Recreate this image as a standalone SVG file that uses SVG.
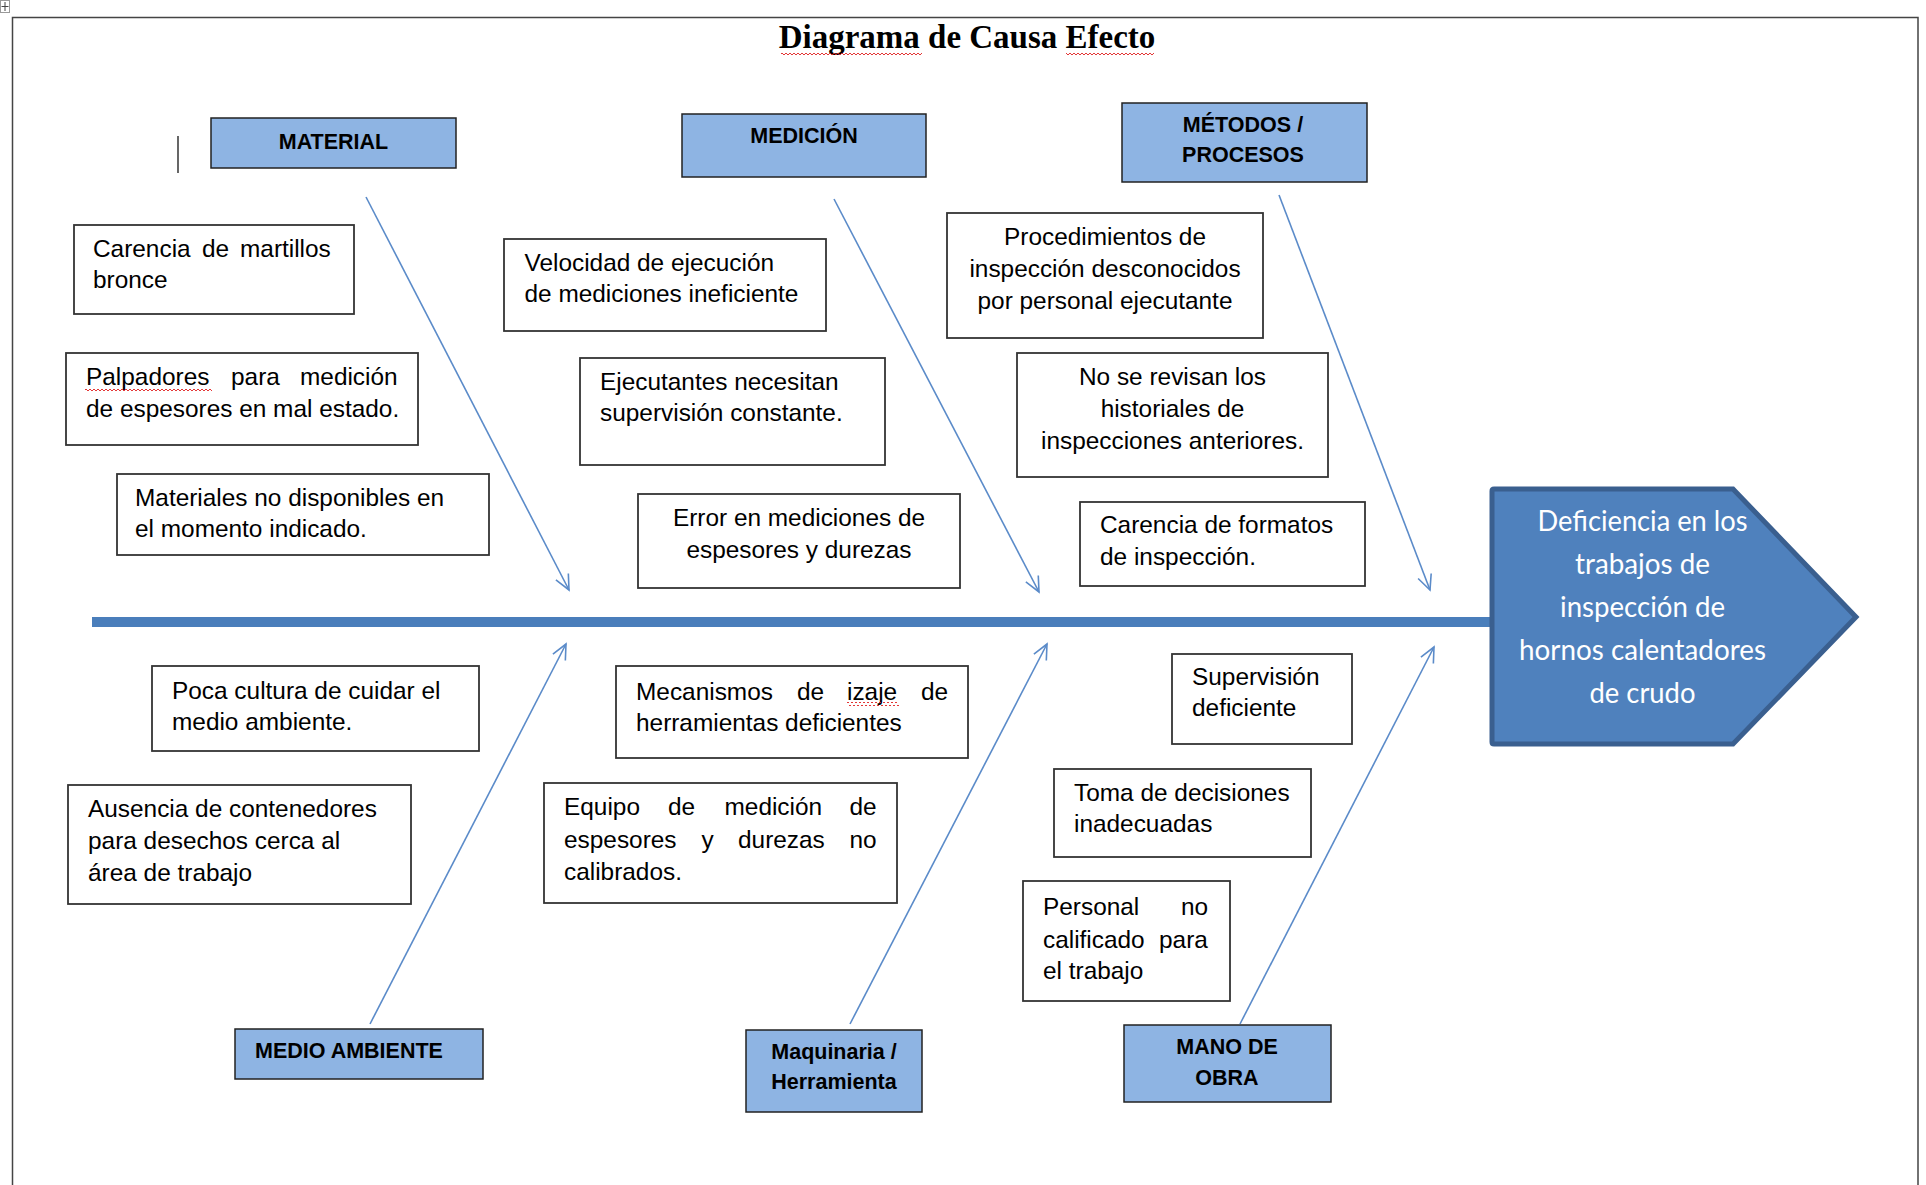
<svg xmlns="http://www.w3.org/2000/svg" width="1926" height="1185" viewBox="0 0 1926 1185">
<style>
.frame{fill:none;stroke:#444;stroke-width:1.5}
.cat rect{fill:#8EB4E3;stroke:#222;stroke-width:1.5}
.cat text{font-family:"Liberation Sans",Arial,sans-serif;font-size:21.5px;font-weight:bold;fill:#000}
.cause rect{fill:#fff;stroke:#333;stroke-width:1.8}
.cause text{font-family:"Liberation Sans",Arial,sans-serif;font-size:24.4px;fill:#000}
.mid{text-anchor:middle}
.conn{stroke:#5B8BC9;stroke-width:1.6;fill:none;marker-end:url(#arr)}
.spine{stroke:#4A7EBB;stroke-width:10;fill:none}
.eff{font-family:Lato,"Liberation Sans",sans-serif;font-size:28px;fill:#fff;text-anchor:middle}
rect.sq,.cause rect.sq{fill:url(#sq);stroke:none}
</style>
<defs>
<marker id="arr" viewBox="-17 -9 19 18" refX="0" refY="0" markerWidth="19" markerHeight="18" markerUnits="userSpaceOnUse" orient="auto">
<path d="M-15,-7 L0,0 L-15,7" fill="none" stroke="#5B8BC9" stroke-width="1.6"/>
</marker>
<pattern id="sq" x="0" y="0" width="4" height="4" patternUnits="userSpaceOnUse">
<path d="M0,3 L2,1 L4,3" fill="none" stroke="#E02020" stroke-width="0.9"/>
</pattern>
</defs>
<rect width="1926" height="1185" fill="#fff"/>
<g id="frame">
<path class="frame" d="M12.5,1185 V17.5 H1918 V1185"/>
<rect x="0.5" y="0.5" width="9" height="12" fill="#fff" stroke="#999" stroke-width="1"/>
<path d="M5,2 V11 M1.5,6.5 H8.5" stroke="#444" stroke-width="1" fill="none"/>
<line x1="178" y1="136" x2="178" y2="173" stroke="#000" stroke-width="1.2"/>
</g>
<g id="title">
<text x="967" y="48" text-anchor="middle" font-family="'Liberation Serif','Times New Roman',serif" font-weight="bold" font-size="33px" fill="#000">Diagrama de Causa Efecto</text>
<rect class="sq" x="781" y="51" width="141" height="4"/>
<rect class="sq" x="1066" y="51" width="88" height="4"/>
</g>
<g id="connectors">
<line class="spine" x1="92" y1="622" x2="1492" y2="622"/>
<line class="conn" x1="366" y1="197" x2="569" y2="590"/>
<line class="conn" x1="834" y1="199" x2="1039" y2="592"/>
<line class="conn" x1="1279" y1="195" x2="1430" y2="590"/>
<line class="conn" x1="370" y1="1024" x2="566" y2="644"/>
<line class="conn" x1="850" y1="1024" x2="1047" y2="644"/>
<line class="conn" x1="1240" y1="1024" x2="1434" y2="647"/>
</g>
<g id="effect">
<path d="M1492,491 Q1492,489 1494,489 L1733,489 L1856,617 L1733,744 L1494,744 Q1492,744 1492,742 Z" fill="#4F81BD" stroke="#3A5F8F" stroke-width="5" stroke-linejoin="miter"/>
<text class="eff" x="1642.5" y="531" textLength="210" lengthAdjust="spacingAndGlyphs">Deficiencia en los</text>
<text class="eff" x="1642.5" y="574" textLength="135" lengthAdjust="spacingAndGlyphs">trabajos de</text>
<text class="eff" x="1642.5" y="617" textLength="165" lengthAdjust="spacingAndGlyphs">inspección de</text>
<text class="eff" x="1642.5" y="660" textLength="247" lengthAdjust="spacingAndGlyphs">hornos calentadores</text>
<text class="eff" x="1642.5" y="703" textLength="106" lengthAdjust="spacingAndGlyphs">de crudo</text>
</g>
<g id="cat-material" class="cat">
<rect x="211" y="118" width="245" height="50"/>
<text class="mid" x="333.5" y="149">MATERIAL</text>
</g>
<g id="cat-medicion" class="cat">
<rect x="682" y="114" width="244" height="63"/>
<text class="mid" x="804" y="143">MEDICIÓN</text>
</g>
<g id="cat-metodos" class="cat">
<rect x="1122" y="103" width="245" height="79"/>
<text class="mid" x="1243" y="132">MÉTODOS /</text>
<text class="mid" x="1243" y="162">PROCESOS</text>
</g>
<g id="cat-medio" class="cat">
<rect x="235" y="1029" width="248" height="50"/>
<text x="255" y="1058">MEDIO AMBIENTE</text>
</g>
<g id="cat-maquinaria" class="cat">
<rect x="746" y="1030" width="176" height="82"/>
<text class="mid" x="834" y="1059">Maquinaria /</text>
<text class="mid" x="834" y="1089">Herramienta</text>
</g>
<g id="cat-mano" class="cat">
<rect x="1124" y="1025" width="207" height="77"/>
<text class="mid" x="1227" y="1054">MANO DE</text>
<text class="mid" x="1227" y="1085">OBRA</text>
</g>
<g id="c1" class="cause">
<rect x="74" y="225" width="280" height="89"/>
<text y="257"><tspan x="93">Carencia</tspan><tspan x="202">de</tspan><tspan x="240">martillos</tspan></text>
<text x="93" y="288">bronce</text>
</g>
<g id="c2" class="cause">
<rect x="66" y="353" width="352" height="92"/>
<text y="385"><tspan x="86">Palpadores</tspan><tspan x="231">para</tspan><tspan x="300">medición</tspan></text>
<text x="86" y="417">de espesores en mal estado.</text>
<rect class="sq" x="85" y="388" width="127" height="4"/>
</g>
<g id="c3" class="cause">
<rect x="117" y="474" width="372" height="81"/>
<text x="135" y="506">Materiales no disponibles en</text>
<text x="135" y="537">el momento indicado.</text>
</g>
<g id="c4" class="cause">
<rect x="504" y="239" width="322" height="92"/>
<text x="524.5" y="271">Velocidad de ejecución</text>
<text x="524.5" y="302">de mediciones ineficiente</text>
</g>
<g id="c5" class="cause">
<rect x="580" y="358" width="305" height="107"/>
<text x="600" y="390">Ejecutantes necesitan</text>
<text x="600" y="421">supervisión constante.</text>
</g>
<g id="c6" class="cause">
<rect x="638" y="494" width="322" height="94"/>
<text class="mid" x="799" y="526">Error en mediciones de</text>
<text class="mid" x="799" y="558">espesores y durezas</text>
</g>
<g id="c7" class="cause">
<rect x="947" y="213" width="316" height="125"/>
<text class="mid" x="1105" y="245">Procedimientos de</text>
<text class="mid" x="1105" y="277">inspección desconocidos</text>
<text class="mid" x="1105" y="309">por personal ejecutante</text>
</g>
<g id="c8" class="cause">
<rect x="1017" y="353" width="311" height="124"/>
<text class="mid" x="1172.5" y="385">No se revisan los</text>
<text class="mid" x="1172.5" y="417">historiales de</text>
<text class="mid" x="1172.5" y="449">inspecciones anteriores.</text>
</g>
<g id="c9" class="cause">
<rect x="1080" y="502" width="285" height="84"/>
<text x="1100" y="533">Carencia de formatos</text>
<text x="1100" y="565">de inspección.</text>
</g>
<g id="c10" class="cause">
<rect x="152" y="666" width="327" height="85"/>
<text x="172" y="699">Poca cultura de cuidar el</text>
<text x="172" y="730">medio ambiente.</text>
</g>
<g id="c11" class="cause">
<rect x="68" y="785" width="343" height="119"/>
<text x="88" y="817">Ausencia de contenedores</text>
<text x="88" y="849">para desechos cerca al</text>
<text x="88" y="881">área de trabajo</text>
</g>
<g id="c12" class="cause">
<rect x="616" y="666" width="352" height="92"/>
<text y="700"><tspan x="636">Mecanismos</tspan><tspan x="797">de</tspan><tspan x="847">izaje</tspan><tspan x="921">de</tspan></text>
<text x="636" y="731">herramientas deficientes</text>
<rect class="sq" x="847" y="702" width="52" height="4"/>
</g>
<g id="c13" class="cause">
<rect x="544" y="783" width="353" height="120"/>
<text y="815"><tspan x="564">Equipo</tspan><tspan x="668">de</tspan><tspan x="724.5">medición</tspan><tspan x="849.5">de</tspan></text>
<text y="848"><tspan x="564">espesores</tspan><tspan x="701.5">y</tspan><tspan x="738">durezas</tspan><tspan x="849.5">no</tspan></text>
<text x="564" y="880">calibrados.</text>
</g>
<g id="c14" class="cause">
<rect x="1172" y="654" width="180" height="90"/>
<text x="1192" y="685">Supervisión</text>
<text x="1192" y="716">deficiente</text>
</g>
<g id="c15" class="cause">
<rect x="1054" y="769" width="257" height="88"/>
<text x="1074" y="801">Toma de decisiones</text>
<text x="1074" y="832">inadecuadas</text>
</g>
<g id="c16" class="cause">
<rect x="1023" y="881" width="207" height="120"/>
<text y="915"><tspan x="1043">Personal</tspan><tspan x="1181">no</tspan></text>
<text y="948"><tspan x="1043">calificado</tspan><tspan x="1159">para</tspan></text>
<text x="1043" y="979">el trabajo</text>
</g>
</svg>
